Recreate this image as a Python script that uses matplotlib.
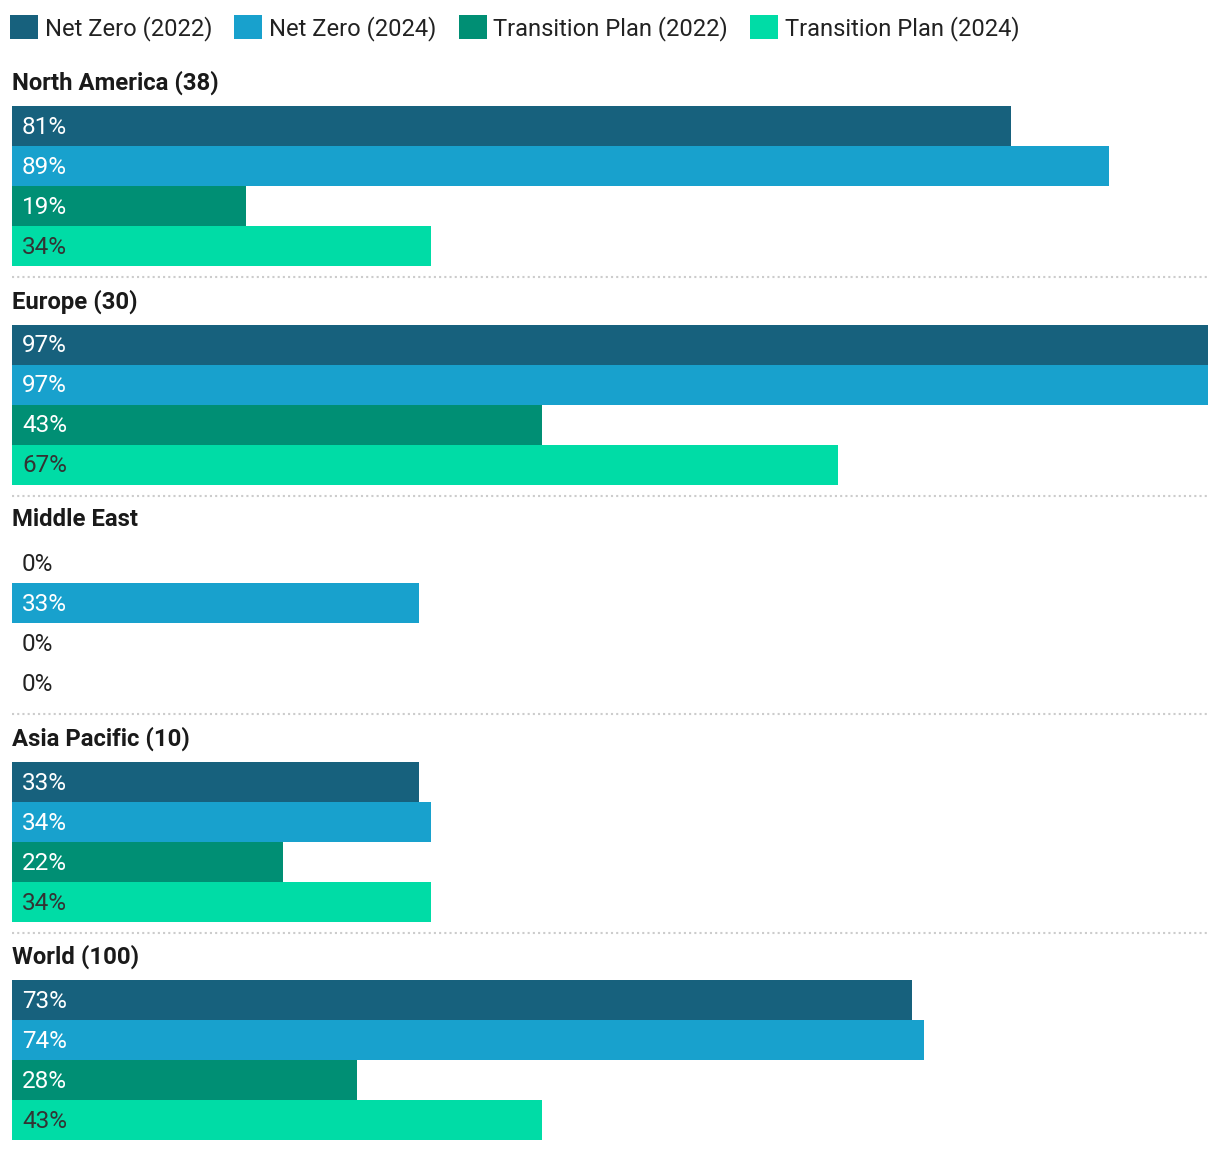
import matplotlib
matplotlib.use("Agg")
import matplotlib.pyplot as plt
from matplotlib.patches import Patch

plt.rcParams['font.family'] = ['Roboto', 'DejaVu Sans']

regions = ['North America (38)', 'Europe (30)', 'Middle East', 'Asia Pacific (10)', 'World (100)']
series = ['Net Zero (2022)', 'Net Zero (2024)', 'Transition Plan (2022)', 'Transition Plan (2024)']
net_zero_2022 = [81, 97, 0, 33, 73]
net_zero_2024 = [89, 97, 33, 34, 74]
transition_2022 = [19, 43, 0, 22, 28]
transition_2024 = [34, 67, 0, 34, 43]

colors = ['#17617d', '#18a1cd', '#008f74', '#00dca6']
label_colors = ['white', 'white', 'white', '#333333']

W, H = 1220, 1152
fig = plt.figure(figsize=(W / 100, H / 100), dpi=100)
ax = fig.add_axes([12 / W, 0, 1196 / W, 1])
ax.set_xlim(0, 97)
ax.set_ylim(H, 0)
ax.axis('off')

group_step = 218.5
bar_h = 40
first_bar_top = 106
values = [net_zero_2022, net_zero_2024, transition_2022, transition_2024]

for g, name in enumerate(regions):
    top = first_bar_top + g * group_step
    ax.text(0, top - 23, name, fontsize=17.2, fontweight='bold', color='#1a1a1a',
            va='center', ha='left')
    for s in range(4):
        v = values[s][g]
        yc = top + bar_h * s + bar_h / 2
        ax.barh(yc, v, height=bar_h, color=colors[s], linewidth=0)
        tc = label_colors[s] if v > 0 else '#222222'
        ax.annotate(f'{v}%', (0, yc), xytext=(10, -1.5), textcoords='offset pixels',
                    fontsize=17.5, color=tc, va='center', ha='left')
    if g < len(regions) - 1:
        ax.axhline(top + 4 * bar_h + 11, color='#cccccc', linestyle=(0, (1, 1.5)),
                   linewidth=1.5)

handles = [Patch(facecolor=c, edgecolor='none') for c in colors]
fig.legend(handles, series, loc='upper left', bbox_to_anchor=(3 / W, 1 - 8 / H),
           ncol=4, frameon=False, fontsize=17.1, handlelength=1.18, handleheight=1.18,
           handletextpad=0.29, columnspacing=0.92, borderpad=0.3, borderaxespad=0,
           labelcolor='#222222')

fig.savefig('out.png', dpi=100)
